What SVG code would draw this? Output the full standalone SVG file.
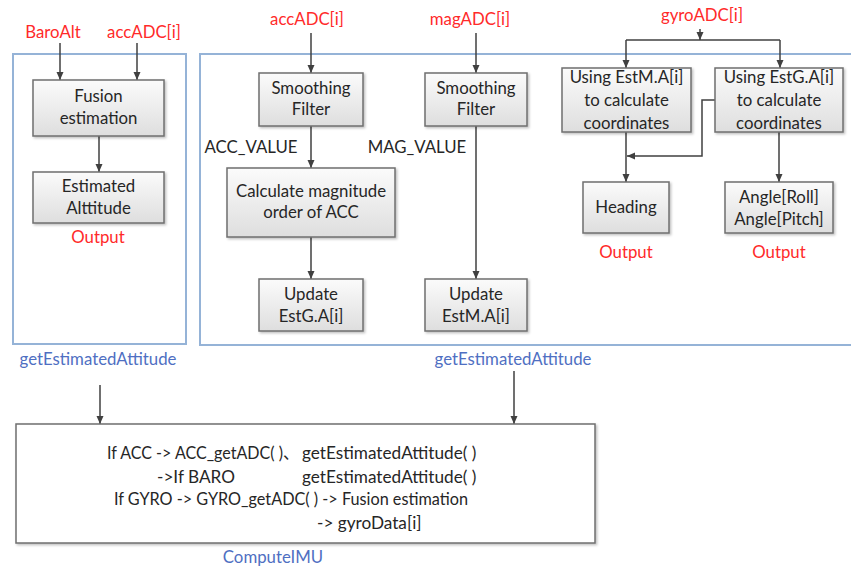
<svg xmlns="http://www.w3.org/2000/svg" width="851" height="571" viewBox="0 0 851 571">
<defs>
<linearGradient id="boxg" x1="0" y1="0" x2="0" y2="1">
<stop offset="0" stop-color="#fbfbfb"/>
<stop offset="1" stop-color="#dedede"/>
</linearGradient>
<filter id="sh" x="-10%" y="-10%" width="130%" height="130%">
<feDropShadow dx="1.5" dy="1.5" stdDeviation="1" flood-color="#000" flood-opacity="0.25"/>
</filter>
<marker id="ah" markerWidth="8" markerHeight="8" viewBox="0 0 8 8" refX="8" refY="4" orient="auto" markerUnits="userSpaceOnUse">
<path d="M0,0.5 L8,4 L0,7.5 Z" fill="#404040"/>
</marker>
</defs>
<style>
text{font-family:Lato,"Liberation Sans","Noto Sans CJK SC",sans-serif;font-size:16.8px;fill:#262626;text-anchor:middle}
.red{fill:#ff2a2a}
.blue{fill:#4f6fc2}
.box{fill:url(#boxg);stroke:#6f6f6f;stroke-width:1.5;filter:url(#sh)}
.cont{fill:none;stroke:#95b3d7;stroke-width:2}
.ln{fill:none;stroke:#404040;stroke-width:1.5}
.ar{fill:none;stroke:#404040;stroke-width:1.5;marker-end:url(#ah)}
.big{fill:#fff;stroke:#6f6f6f;stroke-width:1.5;filter:url(#sh)}
.code{text-anchor:start;font-size:17.2px}
</style>
<rect width="851" height="571" fill="#fff"/>

<g id="containers">
<rect class="cont" x="13" y="54" width="173" height="290"/>
<rect class="cont" x="200" y="54" width="660" height="291"/>
</g>

<g id="labels">
<text class="red" x="53" y="38">BaroAlt</text>
<text class="red" x="144" y="38">accADC[i]</text>
<text class="red" x="307" y="25">accADC[i]</text>
<text class="red" x="470" y="25">magADC[i]</text>
<text class="red" x="702" y="21">gyroADC[i]</text>
<text x="251" y="153">ACC_VALUE</text>
<text x="417" y="153">MAG_VALUE</text>
<text class="red" x="98" y="243">Output</text>
<text class="red" x="626" y="258">Output</text>
<text class="red" x="779" y="258">Output</text>
<text class="blue" x="98" y="365">getEstimatedAttitude</text>
<text class="blue" x="513" y="365">getEstimatedAttitude</text>
<text class="blue" x="273" y="563">ComputeIMU</text>
</g>

<g id="connectors">
<line class="ar" x1="60" y1="43" x2="60" y2="80"/>
<line class="ar" x1="137" y1="43" x2="137" y2="80"/>
<line class="ar" x1="99" y1="136" x2="99" y2="172"/>
<line class="ar" x1="311" y1="33" x2="311" y2="73"/>
<line class="ar" x1="476" y1="33" x2="476" y2="73"/>
<line class="ar" x1="311" y1="126" x2="311" y2="168"/>
<line class="ar" x1="311" y1="237" x2="311" y2="279"/>
<line class="ar" x1="476" y1="126" x2="476" y2="279"/>
<line class="ar" x1="700" y1="29" x2="700" y2="40"/>
<polyline class="ln" points="626,40 780,40"/>
<line class="ar" x1="626" y1="40" x2="626" y2="68"/>
<line class="ar" x1="780" y1="40" x2="780" y2="68"/>
<line class="ar" x1="626" y1="132" x2="626" y2="182"/>
<line class="ar" x1="779" y1="132" x2="779" y2="182"/>
<polyline class="ar" points="715,100 702,100 702,156 627,156"/>
<line class="ar" x1="100" y1="385" x2="100" y2="424"/>
<line class="ar" x1="514" y1="371" x2="514" y2="424"/>
</g>

<g id="fusion">
<rect class="box" x="33" y="80" width="131" height="56"/>
<text x="98.5" y="102">Fusion</text>
<text x="98.5" y="124">estimation</text>
</g>
<g id="estimated-altitude">
<rect class="box" x="33" y="172" width="131" height="51"/>
<text x="98.5" y="192">Estimated</text>
<text x="98.5" y="214">Alttitude</text>
</g>
<g id="smoothing-acc">
<rect class="box" x="259" y="73" width="104" height="53"/>
<text x="311" y="94">Smoothing</text>
<text x="311" y="115">Filter</text>
</g>
<g id="smoothing-mag">
<rect class="box" x="425" y="73" width="102" height="53"/>
<text x="476" y="94">Smoothing</text>
<text x="476" y="115">Filter</text>
</g>
<g id="calc-magnitude">
<rect class="box" x="227" y="168" width="168" height="69"/>
<text x="311" y="197">Calculate magnitude</text>
<text x="311" y="218">order of ACC</text>
</g>
<g id="update-estg">
<rect class="box" x="259" y="279" width="104" height="52"/>
<text x="311" y="300">Update</text>
<text x="311" y="322">EstG.A[i]</text>
</g>
<g id="update-estm">
<rect class="box" x="425" y="279" width="102" height="52"/>
<text x="476" y="300">Update</text>
<text x="476" y="322">EstM.A[i]</text>
</g>
<g id="using-estm">
<rect class="box" x="562" y="68" width="129" height="64"/>
<text x="626.5" y="83">Using EstM.A[i]</text>
<text x="626.5" y="106">to calculate</text>
<text x="626.5" y="129">coordinates</text>
</g>
<g id="using-estg">
<rect class="box" x="715" y="68" width="128" height="64"/>
<text x="779" y="83">Using EstG.A[i]</text>
<text x="779" y="106">to calculate</text>
<text x="779" y="129">coordinates</text>
</g>
<g id="heading">
<rect class="box" x="583" y="182" width="86" height="51"/>
<text x="626" y="213">Heading</text>
</g>
<g id="angle">
<rect class="box" x="725" y="182" width="108" height="51"/>
<text x="779" y="203">Angle[Roll]</text>
<text x="779" y="225">Angle[Pitch]</text>
</g>
<g id="compute-imu">
<rect class="big" x="16" y="424" width="579" height="119"/>
<text class="code" y="459"><tspan x="107" textLength="192" lengthAdjust="spacingAndGlyphs">If ACC -&gt; ACC_getADC( )、</tspan><tspan x="302">getEstimatedAttitude( )</tspan></text>
<text class="code" y="483"><tspan x="157">-&gt;If BARO</tspan><tspan x="302">getEstimatedAttitude( )</tspan></text>
<text class="code" x="114" y="505" textLength="354" lengthAdjust="spacingAndGlyphs">If GYRO -&gt; GYRO_getADC( ) -&gt; Fusion estimation</text>
<text class="code" x="317" y="529">-&gt; gyroData[i]</text>
</g>
</svg>
